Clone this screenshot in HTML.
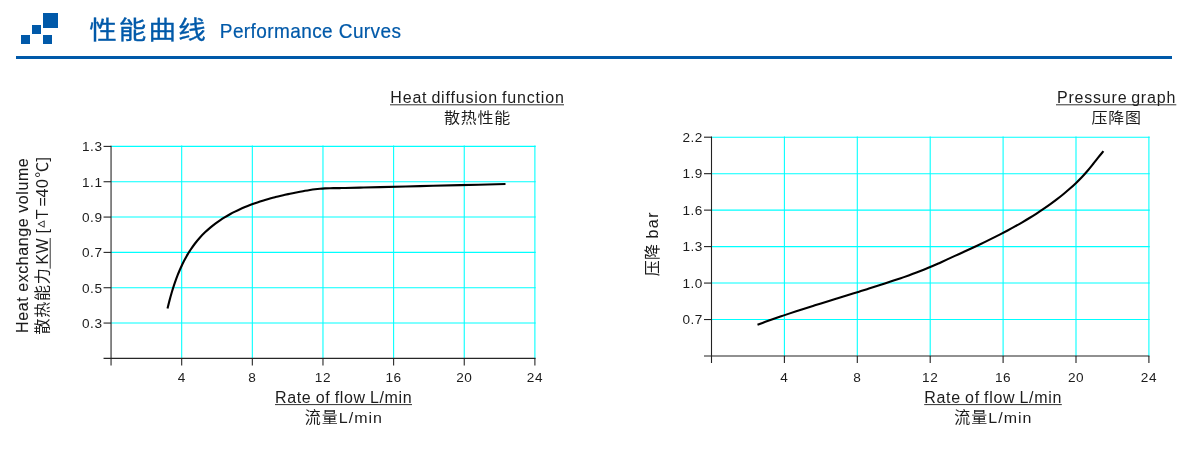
<!DOCTYPE html>
<html lang="zh">
<head>
<meta charset="utf-8">
<title>性能曲线 Performance Curves</title>
<style>
html,body{margin:0;padding:0;background:#fff;}
body{width:1200px;height:451px;overflow:hidden;position:relative;}
svg{position:absolute;left:0;top:0;display:block;}
text{font-family:"Liberation Sans","Noto Sans CJK SC",sans-serif;fill:#1c1c1c;}
.g{stroke:#00ffff;stroke-width:1.08;fill:none;}
.ax{stroke:#262626;stroke-width:1.1;fill:none;}
.ax2{stroke:#222;stroke-width:1.1;fill:none;}
.cv{stroke:#000;stroke-width:2.1;fill:none;stroke-linecap:butt;stroke-linejoin:round;}
.t13{font-size:13.6px;letter-spacing:0.55px;}
.t16{font-size:16px;}
.ul{stroke:#333;stroke-width:1;}
.hd{fill:#0059a9;}
</style>
</head>
<body>
<svg width="1200" height="451" viewBox="0 0 1200 451">
<rect x="0" y="0" width="1200" height="451" fill="#fff"/>
<!-- header icon -->
<rect x="43" y="13" width="15" height="15" fill="#0059a9"/>
<rect x="32" y="25" width="9" height="9" fill="#0059a9"/>
<rect x="21" y="35" width="9" height="9" fill="#0059a9"/>
<rect x="43" y="35" width="9" height="9" fill="#0059a9"/>
<rect x="16" y="56" width="1156" height="3" fill="#0059a9"/>
<text transform="translate(89.2,38.7) scale(1.02,0.94)" class="hd" style="font-size:27px;letter-spacing:2.1px;stroke:#0059a9;stroke-width:0.35px">性能曲线</text>
<text transform="translate(219.8,37.5) scale(1,1.04)" class="hd" style="font-size:19px;stroke:#0059a9;stroke-width:0.2px" textLength="181.2" lengthAdjust="spacing">Performance Curves</text>

<!-- left chart -->
<line x1="181.69" y1="145.60" x2="181.69" y2="358.40" class="g"/>
<line x1="252.33" y1="145.60" x2="252.33" y2="358.40" class="g"/>
<line x1="322.97" y1="145.60" x2="322.97" y2="358.40" class="g"/>
<line x1="393.61" y1="145.60" x2="393.61" y2="358.40" class="g"/>
<line x1="464.25" y1="145.60" x2="464.25" y2="358.40" class="g"/>
<line x1="534.89" y1="145.60" x2="534.89" y2="358.40" class="g"/>
<line x1="111.05" y1="146.40" x2="535.69" y2="146.40" class="g"/>
<line x1="111.05" y1="181.73" x2="535.69" y2="181.73" class="g"/>
<line x1="111.05" y1="217.07" x2="535.69" y2="217.07" class="g"/>
<line x1="111.05" y1="252.40" x2="535.69" y2="252.40" class="g"/>
<line x1="111.05" y1="287.73" x2="535.69" y2="287.73" class="g"/>
<line x1="111.05" y1="323.06" x2="535.69" y2="323.06" class="g"/>
<line x1="111.05" y1="145.70" x2="111.05" y2="365.40" class="ax"/>
<line x1="103.55" y1="358.40" x2="535.59" y2="358.40" class="ax"/>
<line x1="181.69" y1="358.40" x2="181.69" y2="365.40" class="ax"/>
<line x1="252.33" y1="358.40" x2="252.33" y2="365.40" class="ax"/>
<line x1="322.97" y1="358.40" x2="322.97" y2="365.40" class="ax"/>
<line x1="393.61" y1="358.40" x2="393.61" y2="365.40" class="ax"/>
<line x1="464.25" y1="358.40" x2="464.25" y2="365.40" class="ax"/>
<line x1="534.89" y1="358.40" x2="534.89" y2="365.40" class="ax"/>
<line x1="103.55" y1="146.40" x2="111.05" y2="146.40" class="ax"/>
<line x1="103.55" y1="181.73" x2="111.05" y2="181.73" class="ax"/>
<line x1="103.55" y1="217.07" x2="111.05" y2="217.07" class="ax"/>
<line x1="103.55" y1="252.40" x2="111.05" y2="252.40" class="ax"/>
<line x1="103.55" y1="287.73" x2="111.05" y2="287.73" class="ax"/>
<line x1="103.55" y1="323.06" x2="111.05" y2="323.06" class="ax"/>
<text x="102.55" y="151.20" class="t13" text-anchor="end">1.3</text>
<text x="102.55" y="186.53" class="t13" text-anchor="end">1.1</text>
<text x="102.55" y="221.87" class="t13" text-anchor="end">0.9</text>
<text x="102.55" y="257.20" class="t13" text-anchor="end">0.7</text>
<text x="102.55" y="292.53" class="t13" text-anchor="end">0.5</text>
<text x="102.55" y="327.87" class="t13" text-anchor="end">0.3</text>
<text x="181.69" y="382" class="t13" text-anchor="middle">4</text>
<text x="252.33" y="382" class="t13" text-anchor="middle">8</text>
<text x="322.97" y="382" class="t13" text-anchor="middle">12</text>
<text x="393.61" y="382" class="t13" text-anchor="middle">16</text>
<text x="464.25" y="382" class="t13" text-anchor="middle">20</text>
<text x="534.89" y="382" class="t13" text-anchor="middle">24</text>
<path class="cv" d="M167.50,308.50 C167.84,307.14 168.86,302.94 169.55,300.36 C170.23,297.79 170.91,295.36 171.59,293.04 C172.27,290.72 172.95,288.52 173.64,286.42 C174.32,284.32 175.00,282.33 175.68,280.42 C176.36,278.51 177.05,276.70 177.73,274.96 C178.41,273.22 179.09,271.57 179.77,269.99 C180.45,268.40 181.14,266.89 181.82,265.44 C182.50,263.98 183.18,262.60 183.86,261.26 C184.55,259.93 185.23,258.65 185.91,257.42 C186.59,256.19 187.27,255.01 187.95,253.87 C188.64,252.74 188.83,252.32 190.00,250.59 C191.17,248.87 193.33,245.69 195.00,243.51 C196.67,241.33 198.33,239.37 200.00,237.51 C201.67,235.65 203.33,233.96 205.00,232.35 C206.67,230.74 208.33,229.26 210.00,227.84 C211.67,226.43 213.33,225.12 215.00,223.87 C216.67,222.62 218.33,221.45 220.00,220.33 C221.67,219.21 223.33,218.16 225.00,217.15 C226.67,216.14 228.33,215.19 230.00,214.28 C231.67,213.36 233.33,212.50 235.00,211.66 C236.67,210.83 238.33,210.04 240.00,209.28 C241.67,208.52 243.33,207.79 245.00,207.09 C246.67,206.40 248.33,205.73 250.00,205.09 C251.67,204.45 253.33,203.83 255.00,203.24 C256.67,202.65 258.33,202.09 260.00,201.54 C261.67,201.00 263.33,200.48 265.00,199.97 C266.67,199.47 268.33,198.99 270.00,198.52 C271.67,198.06 273.33,197.61 275.00,197.18 C276.67,196.76 278.33,196.34 280.00,195.95 C281.67,195.55 283.33,195.17 285.00,194.80 C286.67,194.43 288.33,194.08 290.00,193.74 C291.67,193.40 293.33,193.09 295.00,192.76 C296.67,192.43 298.33,192.10 300.00,191.77 C301.67,191.45 303.33,191.11 305.00,190.80 C306.67,190.49 308.33,190.20 310.00,189.94 C311.67,189.68 313.33,189.44 315.00,189.24 C316.67,189.04 318.33,188.87 320.00,188.73 C321.67,188.59 323.33,188.49 325.00,188.40 C326.67,188.32 328.33,188.26 330.00,188.22 C331.67,188.17 333.33,188.16 335.00,188.13 C336.67,188.11 338.33,188.11 340.00,188.08 C341.67,188.06 341.67,188.08 345.00,188.00 C348.33,187.93 354.17,187.77 360.00,187.63 C365.83,187.48 370.00,187.38 380.00,187.13 C390.00,186.88 406.67,186.46 420.00,186.13 C433.33,185.80 445.75,185.49 460.00,185.13 C474.25,184.78 497.92,184.19 505.50,184.00"/>
<text x="390.3" y="103.3" class="t16" style="word-spacing:-1.2px" textLength="173.5" lengthAdjust="spacing">Heat diffusion function</text>
<line x1="390" y1="104.8" x2="564" y2="104.8" class="ul"/>
<text transform="translate(477.5,123.3) scale(1,0.95)" class="t16" text-anchor="middle" style="letter-spacing:0.8px">散热性能</text>
<text x="275" y="402.7" class="t16" style="word-spacing:-0.8px" textLength="136.7" lengthAdjust="spacing">Rate of flow L/min</text>
<line x1="275" y1="404.6" x2="412" y2="404.6" class="ul"/>
<text transform="translate(304.8,422.8) scale(1,0.96)" class="t16" textLength="77.2" lengthAdjust="spacing">流量L/min</text>
<text transform="translate(28.2,245.6) rotate(-90)" class="t16" style="stroke:#1c1c1c;stroke-width:0.1px" text-anchor="middle" textLength="174.6" lengthAdjust="spacing">Heat exchange volume</text>
<text transform="translate(48.2,334.6) rotate(-90)" style="font-size:16px" textLength="66.4" lengthAdjust="spacing">散热能力</text>
<text transform="translate(47.8,264.5) rotate(-90)" class="t16" textLength="26.1" lengthAdjust="spacing">KW</text>
<text transform="translate(47.8,233.6) rotate(-90)" class="t16">[</text>
<text transform="translate(44.3,227.5) rotate(-90)" style="font-size:7px;stroke:#1c1c1c;stroke-width:0.45px">△</text>
<text transform="translate(47.8,217.4) rotate(-90)" class="t16" x="-1.9 10.9 20 29.4 39.6 55.9">T=40℃]</text>
<line x1="50.2" y1="238" x2="50.2" y2="268.7" class="ul"/>
<!-- right chart -->
<line x1="784.40" y1="136.40" x2="784.40" y2="356.00" class="g"/>
<line x1="857.30" y1="136.40" x2="857.30" y2="356.00" class="g"/>
<line x1="930.20" y1="136.40" x2="930.20" y2="356.00" class="g"/>
<line x1="1003.10" y1="136.40" x2="1003.10" y2="356.00" class="g"/>
<line x1="1076.00" y1="136.40" x2="1076.00" y2="356.00" class="g"/>
<line x1="1148.90" y1="136.40" x2="1148.90" y2="356.00" class="g"/>
<line x1="711.50" y1="137.20" x2="1149.70" y2="137.20" class="g"/>
<line x1="711.50" y1="173.67" x2="1149.70" y2="173.67" class="g"/>
<line x1="711.50" y1="210.13" x2="1149.70" y2="210.13" class="g"/>
<line x1="711.50" y1="246.60" x2="1149.70" y2="246.60" class="g"/>
<line x1="711.50" y1="283.07" x2="1149.70" y2="283.07" class="g"/>
<line x1="711.50" y1="319.53" x2="1149.70" y2="319.53" class="g"/>
<line x1="711.50" y1="136.50" x2="711.50" y2="363.00" class="ax2"/>
<line x1="704.00" y1="356.00" x2="1149.40" y2="356.00" class="ax2"/>
<line x1="784.40" y1="356.00" x2="784.40" y2="363.00" class="ax2"/>
<line x1="857.30" y1="356.00" x2="857.30" y2="363.00" class="ax2"/>
<line x1="930.20" y1="356.00" x2="930.20" y2="363.00" class="ax2"/>
<line x1="1003.10" y1="356.00" x2="1003.10" y2="363.00" class="ax2"/>
<line x1="1076.00" y1="356.00" x2="1076.00" y2="363.00" class="ax2"/>
<line x1="1148.90" y1="356.00" x2="1148.90" y2="363.00" class="ax2"/>
<line x1="704.00" y1="137.20" x2="711.50" y2="137.20" class="ax2"/>
<line x1="704.00" y1="173.67" x2="711.50" y2="173.67" class="ax2"/>
<line x1="704.00" y1="210.13" x2="711.50" y2="210.13" class="ax2"/>
<line x1="704.00" y1="246.60" x2="711.50" y2="246.60" class="ax2"/>
<line x1="704.00" y1="283.07" x2="711.50" y2="283.07" class="ax2"/>
<line x1="704.00" y1="319.53" x2="711.50" y2="319.53" class="ax2"/>
<text x="703.00" y="142.00" class="t13" text-anchor="end">2.2</text>
<text x="703.00" y="178.47" class="t13" text-anchor="end">1.9</text>
<text x="703.00" y="214.93" class="t13" text-anchor="end">1.6</text>
<text x="703.00" y="251.40" class="t13" text-anchor="end">1.3</text>
<text x="703.00" y="287.87" class="t13" text-anchor="end">1.0</text>
<text x="703.00" y="324.33" class="t13" text-anchor="end">0.7</text>
<text x="784.40" y="382" class="t13" text-anchor="middle">4</text>
<text x="857.30" y="382" class="t13" text-anchor="middle">8</text>
<text x="930.20" y="382" class="t13" text-anchor="middle">12</text>
<text x="1003.10" y="382" class="t13" text-anchor="middle">16</text>
<text x="1076.00" y="382" class="t13" text-anchor="middle">20</text>
<text x="1148.90" y="382" class="t13" text-anchor="middle">24</text>
<path class="cv" d="M757.50,324.70 C758.81,324.23 762.75,322.80 765.37,321.86 C768.00,320.92 770.62,319.97 773.25,319.05 C775.89,318.12 778.52,317.21 781.16,316.31 C783.80,315.41 786.44,314.52 789.09,313.63 C791.73,312.75 794.38,311.88 797.03,311.01 C799.69,310.15 802.34,309.29 805.00,308.44 C807.65,307.59 810.31,306.75 812.97,305.91 C815.63,305.07 818.29,304.24 820.96,303.41 C823.62,302.58 826.28,301.75 828.95,300.93 C831.61,300.10 834.28,299.28 836.95,298.46 C839.61,297.64 842.28,296.82 844.94,296.00 C847.61,295.18 850.28,294.36 852.94,293.53 C855.61,292.71 858.27,291.89 860.93,291.06 C863.60,290.23 866.26,289.40 868.92,288.56 C871.58,287.73 874.24,286.89 876.90,286.04 C879.55,285.19 882.21,284.34 884.86,283.48 C887.51,282.62 890.16,281.75 892.81,280.87 C895.46,280.00 898.10,279.11 900.74,278.21 C903.38,277.31 906.01,276.39 908.64,275.45 C911.26,274.51 913.88,273.56 916.49,272.57 C919.10,271.59 921.70,270.58 924.29,269.54 C926.87,268.49 929.45,267.42 932.02,266.32 C934.59,265.21 937.14,264.06 939.68,262.92 C942.23,261.77 944.77,260.59 947.30,259.42 C949.84,258.25 952.37,257.08 954.90,255.92 C957.43,254.76 959.95,253.60 962.48,252.44 C965.00,251.28 967.52,250.13 970.05,248.96 C972.57,247.79 975.09,246.62 977.60,245.43 C980.12,244.24 982.64,243.05 985.15,241.83 C987.66,240.62 990.17,239.39 992.67,238.14 C995.17,236.90 997.67,235.64 1000.16,234.36 C1002.64,233.08 1005.12,231.78 1007.59,230.46 C1010.06,229.14 1012.51,227.81 1014.96,226.45 C1017.40,225.09 1019.83,223.70 1022.25,222.30 C1024.66,220.89 1027.06,219.46 1029.45,218.00 C1031.83,216.54 1034.19,215.06 1036.54,213.55 C1038.88,212.04 1041.21,210.50 1043.51,208.93 C1045.82,207.36 1048.10,205.77 1050.36,204.14 C1052.61,202.51 1054.85,200.85 1057.06,199.15 C1059.26,197.45 1061.44,195.73 1063.59,193.96 C1065.74,192.20 1067.87,190.40 1069.96,188.55 C1072.04,186.71 1074.09,184.83 1076.10,182.90 C1078.11,180.98 1080.08,179.01 1082.00,176.98 C1083.91,174.96 1085.78,172.88 1087.60,170.76 C1089.42,168.64 1091.17,166.44 1092.92,164.25 C1094.67,162.06 1096.35,159.81 1098.10,157.64 C1099.85,155.46 1102.52,152.27 1103.40,151.20"/>
<text x="1056.9" y="103.3" class="t16" style="word-spacing:-1.5px" textLength="118.4" lengthAdjust="spacing">Pressure graph</text>
<line x1="1056" y1="104.8" x2="1176.3" y2="104.8" class="ul"/>
<text transform="translate(1116.6,123.3) scale(1,0.95)" class="t16" text-anchor="middle" style="letter-spacing:0.8px">压降图</text>
<text x="924.3" y="402.7" class="t16" style="word-spacing:-0.8px" textLength="137" lengthAdjust="spacing">Rate of flow L/min</text>
<line x1="924.2" y1="404.6" x2="1061.8" y2="404.6" class="ul"/>
<text transform="translate(954.3,422.8) scale(1,0.96)" class="t16" textLength="77.2" lengthAdjust="spacing">流量L/min</text>
<text transform="translate(657.6,276.2) rotate(-90)" class="t16" x="0 16.3 32.6 37.6 48 58.4">压降 bar</text>
</svg>
</body>
</html>
